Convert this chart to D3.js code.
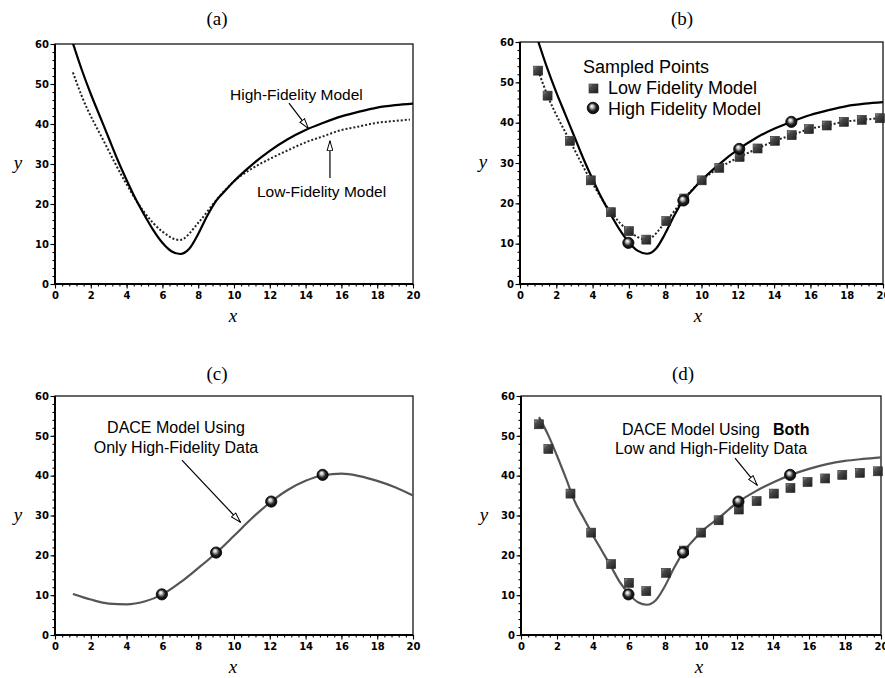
<!DOCTYPE html>
<html>
<head>
<meta charset="utf-8">
<script src="https://cdn.jsdelivr.net/npm/d3@7"></script>
<style>
body { margin: 0; background: #fff; }
</style>
</head>
<body>
<div id="svg"></div>
<script>
///////////////Data

// high-fidelity model curve
var hiFiX = [1, 1.5, 2, 2.5, 3, 3.5, 4, 4.5, 5, 5.5, 6, 6.5, 7, 7.5, 8, 8.5, 9, 9.5, 10, 11, 12, 13, 14, 15, 16, 17, 18, 19, 20];
var hiFiY = [60.2, 53.5, 47.5, 42, 36.5, 31, 26, 21.3, 17.2, 13.4, 10.3, 8.2, 7.5, 8.8, 12.5, 17, 20.8, 23.3, 25.7, 29.8, 33.3, 36.2, 38.5, 40.3, 41.9, 43.1, 44.1, 44.7, 45.1];

// low-fidelity model (sampled squares, dotted curve runs through them)
var loFiX = [1.0, 1.52, 2.75, 3.9, 5.01, 6.0, 6.96, 8.06, 9.05, 10.01, 10.98, 12.1, 13.09, 14.05, 14.97, 15.92, 16.9, 17.85, 18.83, 19.83];
var loFiY = [52.9, 46.7, 35.5, 25.7, 17.8, 13.1, 11.0, 15.6, 21.2, 25.7, 28.8, 31.5, 33.6, 35.5, 36.9, 38.4, 39.3, 40.2, 40.7, 41.1];

// high-fidelity samples (spheres)
var sampleHiX = [5.97, 9.0, 12.08, 14.95];
var sampleHiY = [10.2, 20.7, 33.5, 40.2];

// DACE model, high-fidelity data only
var daceHiX = [1, 2, 3, 4, 5, 6, 7, 8, 9, 10, 11, 12, 13, 14, 15, 16, 17, 18, 19, 20];
var daceHiY = [10.3, 8.9, 7.9, 7.7, 8.4, 10.2, 13.2, 16.8, 20.6, 24.9, 29.3, 33.2, 36.4, 38.7, 40.1, 40.5, 39.9, 38.7, 37.1, 35.0];

// DACE model, both low and high fidelity data
var daceBothX = [1, 1.5, 2, 2.5, 3, 3.5, 4, 4.5, 5, 5.5, 6, 6.5, 7, 7.5, 8, 8.5, 9, 9.5, 10, 11, 12, 13, 14, 15, 16, 17, 18, 19, 20];
var daceBothY = [54.7, 50.3, 45.0, 39.3, 33.4, 29.2, 25.0, 21.1, 17.2, 13.2, 10.3, 8.2, 7.6, 8.8, 12.3, 16.8, 20.7, 23.4, 25.8, 29.4, 33.2, 36.0, 38.3, 40.2, 41.7, 42.9, 43.7, 44.2, 44.6];

var xTicks = [0, 2, 4, 6, 8, 10, 12, 14, 16, 18, 20];
var yTicks = [0, 10, 20, 30, 40, 50, 60];
var panelTitles = ["(a)", "(b)", "(c)", "(d)"];

///////////////Graph

var svgWidth = 885, svgHeight = 678;
var sansFont = "'Liberation Sans', Arial, sans-serif";
var tickFont = "'DejaVu Sans', Verdana, sans-serif";
var serifFont = "'Liberation Serif', 'Times New Roman', serif";

var svg = d3.select("div#svg").append("svg")
    .attr("width", svgWidth)
    .attr("height", svgHeight)
    .style("display", "block");

var defs = svg.append("defs");

//shaded square marker
var sqGrad = defs.append("linearGradient").attr("id", "sqGrad")
    .attr("x1", 0).attr("y1", 0).attr("x2", 1).attr("y2", 1);
sqGrad.append("stop").attr("offset", "0%").attr("stop-color", "#9a9a9a");
sqGrad.append("stop").attr("offset", "30%").attr("stop-color", "#4a4a4a");
sqGrad.append("stop").attr("offset", "100%").attr("stop-color", "#1c1c1c");

//sphere marker
var ballGrad = defs.append("radialGradient").attr("id", "ballGrad")
    .attr("cx", "50%").attr("cy", "50%").attr("r", "55%")
    .attr("fx", "38%").attr("fy", "32%");
ballGrad.append("stop").attr("offset", "0%").attr("stop-color", "#ffffff");
ballGrad.append("stop").attr("offset", "22%").attr("stop-color", "#cfcfcf");
ballGrad.append("stop").attr("offset", "60%").attr("stop-color", "#222");
ballGrad.append("stop").attr("offset", "100%").attr("stop-color", "#000");

//open arrow head
defs.append("marker").attr("id", "openArrow")
    .attr("viewBox", "0 0 11 7")
    .attr("refX", 10.5).attr("refY", 3.5)
    .attr("markerWidth", 11).attr("markerHeight", 7)
    .attr("markerUnits", "userSpaceOnUse")
    .attr("orient", "auto")
    .append("path")
    .attr("d", "M0.5,0.6 L10.5,3.5 L0.5,6.4 Z")
    .attr("fill", "#fff").attr("stroke", "#000").attr("stroke-width", 1);

var panels = [
    { left: 55, right: 413, top: 44, bottom: 284, titleY: 25 },
    { left: 520, right: 883, top: 42, bottom: 284, titleY: 25 },
    { left: 55, right: 413, top: 396, bottom: 635, titleY: 380 },
    { left: 521, right: 881, top: 396, bottom: 635, titleY: 380 }
];

function zip(xs, ys) {
    return xs.map(function(v, i) { return [v, ys[i]]; });
}

function drawPanel(p, idx) {
    var g = svg.append("g").attr("id", "panel" + idx);
    var x = d3.scaleLinear().domain([0, 20]).range([p.left, p.right]);
    var y = d3.scaleLinear().domain([0, 60]).range([p.bottom, p.top]);

    g.append("clipPath").attr("id", "clip" + idx)
        .append("rect")
        .attr("x", p.left).attr("y", p.top)
        .attr("width", p.right - p.left).attr("height", p.bottom - p.top);

    //title
    g.append("text")
        .text(panelTitles[idx])
        .attr("x", p.left + 162)
        .attr("y", p.titleY)
        .attr("text-anchor", "middle")
        .attr("font-family", serifFont)
        .attr("font-size", 19)
        .attr("fill", "black");

    //minor ticks
    g.append("g")
        .attr("transform", "translate(0," + p.bottom + ")")
        .call(d3.axisBottom(x).tickValues(d3.range(0, 20.001, 0.4)).tickSize(2.5).tickFormat(""))
        .call(function(a) { a.select(".domain").remove(); });
    g.append("g")
        .attr("transform", "translate(" + p.left + ",0)")
        .call(d3.axisLeft(y).tickValues(d3.range(0, 60.001, 2)).tickSize(2.5).tickFormat(""))
        .call(function(a) { a.select(".domain").remove(); });

    //x-axis
    var xAxis = g.append("g")
        .attr("transform", "translate(0," + p.bottom + ")")
        .call(d3.axisBottom(x).tickValues(xTicks).tickSize(4.5).tickPadding(3));
    xAxis.select(".domain").remove();
    xAxis.selectAll("text")
        .attr("font-family", tickFont).attr("font-size", 10).attr("font-weight", "bold").attr("fill", "black");

    //y-axis
    var yAxis = g.append("g")
        .attr("transform", "translate(" + p.left + ",0)")
        .call(d3.axisLeft(y).tickValues(yTicks).tickSize(4.5).tickPadding(1.5));
    yAxis.select(".domain").remove();
    yAxis.selectAll("text")
        .attr("font-family", tickFont).attr("font-size", 10).attr("font-weight", "bold").attr("fill", "black");
    g.selectAll(".tick line").attr("stroke", "black").attr("stroke-width", 1.1);

    //frame
    g.append("rect")
        .attr("x", p.left).attr("y", p.top)
        .attr("width", p.right - p.left).attr("height", p.bottom - p.top)
        .attr("fill", "none").attr("stroke", "black").attr("stroke-width", 1.2);
    g.append("path")
        .attr("d", "M" + p.left + "," + p.top + "V" + p.bottom + "H" + p.right)
        .attr("fill", "none").attr("stroke", "black").attr("stroke-width", 2);

    //axis labels
    g.append("text")
        .text("x")
        .attr("x", p.left + 178)
        .attr("y", p.bottom + 38)
        .attr("text-anchor", "middle")
        .attr("font-family", serifFont).attr("font-style", "italic").attr("font-size", 19);
    g.append("text")
        .text("y")
        .attr("x", p.left - 37)
        .attr("y", p.top + (p.bottom - p.top) / 2 + 5)
        .attr("text-anchor", "middle")
        .attr("font-family", serifFont).attr("font-style", "italic").attr("font-size", 19);

    var plotArea = g.append("g").attr("clip-path", "url(#clip" + idx + ")");
    var line = d3.line()
        .x(function(d) { return x(d[0]); })
        .y(function(d) { return y(d[1]); })
        .curve(d3.curveMonotoneX);

    return { g: g, plot: plotArea, x: x, y: y, line: line };
}

function addCurve(ctx, xs, ys, colour, width, dash) {
    ctx.plot.append("path")
        .datum(zip(xs, ys))
        .attr("d", ctx.line)
        .attr("fill", "none")
        .attr("stroke", colour)
        .attr("stroke-width", width)
        .attr("stroke-dasharray", dash || null);
}

function addSquares(ctx, xs, ys) {
    ctx.g.append("g").selectAll("rect")
        .data(zip(xs, ys))
        .enter().append("rect")
        .attr("x", function(d) { return ctx.x(d[0]) - 4.5; })
        .attr("y", function(d) { return ctx.y(d[1]) - 4.5; })
        .attr("width", 9).attr("height", 9)
        .attr("fill", "url(#sqGrad)")
        .attr("stroke", "#2a2a2a").attr("stroke-width", 0.6);
}

function addSpheres(ctx, xs, ys) {
    ctx.g.append("g").selectAll("circle")
        .data(zip(xs, ys))
        .enter().append("circle")
        .attr("cx", function(d) { return ctx.x(d[0]); })
        .attr("cy", function(d) { return ctx.y(d[1]); })
        .attr("r", 5.6)
        .attr("fill", "url(#ballGrad)")
        .attr("stroke", "#000").attr("stroke-width", 0.8);
}

function addLabel(ctx, str, dx, dy, size, weight) {
    return ctx.g.append("text")
        .text(str)
        .attr("x", ctx.x(dx)).attr("y", ctx.y(dy))
        .attr("font-family", sansFont)
        .attr("font-size", size)
        .attr("font-weight", weight || "normal")
        .attr("fill", "black");
}

function addArrow(ctx, x1, y1, x2, y2) {
    ctx.g.append("line")
        .attr("x1", ctx.x(x1)).attr("y1", ctx.y(y1))
        .attr("x2", ctx.x(x2)).attr("y2", ctx.y(y2))
        .attr("stroke", "black").attr("stroke-width", 1.2)
        .attr("marker-end", "url(#openArrow)");
}

//(a) the two models
var pa = drawPanel(panels[0], 0);
addCurve(pa, loFiX, loFiY, "#222", 2, "2,2");
addCurve(pa, hiFiX, hiFiY, "black", 2.2);
addLabel(pa, "High-Fidelity Model", 9.78, 46, 15.5);
addArrow(pa, 13.07, 45.2, 14.15, 38.9);
addLabel(pa, "Low-Fidelity Model", 11.28, 21.75, 15.5);
addArrow(pa, 15.36, 26.5, 15.36, 35.8);

//(b) sampled points
var pb = drawPanel(panels[1], 1);
addCurve(pb, loFiX, loFiY, "#222", 2, "2,2");
addCurve(pb, hiFiX, hiFiY, "black", 2.2);
addSquares(pb, loFiX, loFiY);
addSpheres(pb, sampleHiX, sampleHiY);
var legend = pb.g.append("g").attr("transform", "translate(" + (panels[1].left + 63) + "," + (panels[1].top + 31) + ")");
legend.append("text").text("Sampled Points")
    .attr("x", 0).attr("y", 0)
    .attr("font-family", sansFont).attr("font-size", 18);
legend.append("rect")
    .attr("x", 6).attr("y", 11).attr("width", 9).attr("height", 9)
    .attr("fill", "url(#sqGrad)").attr("stroke", "#2a2a2a").attr("stroke-width", 0.6);
legend.append("text").text("Low Fidelity Model")
    .attr("x", 25).attr("y", 21)
    .attr("font-family", sansFont).attr("font-size", 18);
legend.append("circle")
    .attr("cx", 10).attr("cy", 35).attr("r", 5.8)
    .attr("fill", "url(#ballGrad)").attr("stroke", "#000").attr("stroke-width", 0.8);
legend.append("text").text("High Fidelity Model")
    .attr("x", 25).attr("y", 42)
    .attr("font-family", sansFont).attr("font-size", 18);

//(c) DACE, high-fidelity only
var pc = drawPanel(panels[2], 2);
addCurve(pc, daceHiX, daceHiY, "#555", 2.2);
addSpheres(pc, sampleHiX, sampleHiY);
addLabel(pc, "DACE Model Using", 6.76, 50.7, 16).attr("text-anchor", "middle");
addLabel(pc, "Only High-Fidelity Data", 6.76, 45.7, 16).attr("text-anchor", "middle");
addArrow(pc, 7.09, 43.9, 10.36, 28.3);

//(d) DACE, both data sets
var pd = drawPanel(panels[3], 3);
addCurve(pd, daceBothX, daceBothY, "#555", 2.2);
addSquares(pd, loFiX, loFiY);
addSpheres(pd, sampleHiX, sampleHiY);
addLabel(pd, "DACE Model Using", 5.61, 50.2, 16);
addLabel(pd, "Both", 14.0, 50.2, 16, "bold");
addLabel(pd, "Low and High-Fidelity Data", 5.22, 45.4, 16);
addArrow(pd, 11.89, 44.4, 13.12, 37.6);
</script>
</body>
</html>
